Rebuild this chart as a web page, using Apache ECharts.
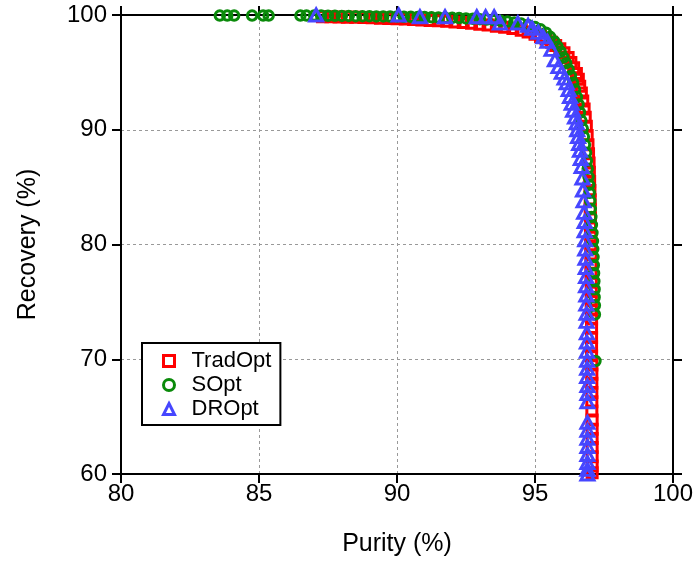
<!DOCTYPE html>
<html>
<head>
<meta charset="utf-8">
<script src="https://cdn.jsdelivr.net/npm/echarts@6/dist/echarts.min.js"></script>
<style>
html,body{margin:0;padding:0;background:#fff;}
#chart{width:695px;height:561px;}
</style>
</head>
<body>
<div id="chart"></div>
<script>
// purity (%) vs recovery (%)
var tradOpt = [
	[87.3,99.85],[87.6,99.85],[87.9,99.82],[88.2,99.8],[88.5,99.8],[88.8,99.78],[89.1,99.75],[89.4,99.72],
	[89.7,99.7],[90.0,99.68],[90.3,99.65],[90.6,99.6],[90.9,99.57],[91.2,99.53],[91.5,99.5],[91.8,99.45],
	[92.1,99.4],[92.4,99.35],[92.7,99.28],[93.0,99.2],[93.3,99.12],[93.6,99.03],[93.9,98.93],[94.2,98.82],
	[94.5,98.68],[94.75,98.52],[95.0,98.33],[95.2,98.13],[95.4,97.9],[95.6,97.62],[95.75,97.35],[95.9,97.05],
	[96.05,96.7],[96.2,96.3],[96.3,95.85],[96.4,95.4],[96.5,94.9],[96.57,94.4],[96.62,93.8],[96.68,93.2],
	[96.73,92.5],[96.78,91.8],[96.82,91.1],[96.86,90.3],[96.89,89.5],[96.92,88.7],[96.94,87.9],[96.96,87.1],
	[96.97,86.3],[96.98,85.5],[96.99,84.7],[97.0,83.9],[97.0,83.1],[97.01,82.3],[97.01,81.5],[97.02,80.7],
	[97.02,79.9],[97.03,79.1],[97.03,78.3],[97.03,77.5],[97.04,76.7],[97.04,75.9],[97.04,75.1],[97.04,74.3],
	[97.05,73.5],[97.05,72.7],[97.05,71.9],[97.05,71.1],[97.05,70.3],[97.06,69.5],[97.06,68.7],[97.06,67.9],
	[97.06,67.1],[97.06,66.3],[97.06,65.5],[97.07,64.7],[97.07,63.9],[97.07,63.1],[97.07,62.3],[97.07,61.5],
	[97.07,60.7],[97.07,60.1]
];
var sOpt = [
	[83.58,99.95],[83.85,99.95],[84.1,99.95],[84.75,99.95],[85.15,99.95],[85.35,99.95],[86.5,99.95],[86.72,99.95],
	[87.0,99.95],[87.25,99.95],[87.5,99.93],[87.75,99.93],[88.0,99.92],[88.25,99.92],[88.5,99.9],[88.75,99.9],
	[89.0,99.9],[89.25,99.88],[89.5,99.88],[89.75,99.87],[90.0,99.86],[90.25,99.85],[90.5,99.84],[90.75,99.83],
	[91.0,99.82],[91.25,99.8],[91.5,99.78],[91.75,99.77],[92.0,99.75],[92.25,99.73],[92.5,99.7],[92.75,99.67],
	[93.0,99.64],[93.25,99.6],[93.5,99.55],[93.75,99.5],[94.0,99.43],[94.25,99.35],[94.5,99.25],[94.75,99.12],
	[95.0,98.95],[95.2,98.75],[95.4,98.45],[95.55,98.1],[95.7,97.7],[95.82,97.25],[95.93,96.8],[96.03,96.3],
	[96.13,95.8],[96.22,95.25],[96.3,94.7],[96.38,94.1],[96.45,93.5],[96.52,92.85],[96.58,92.2],[96.63,91.5],
	[96.68,90.8],[96.73,90.1],[96.77,89.4],[96.81,88.7],[96.85,88.0],[96.88,87.3],[96.91,86.6],[96.94,85.9],
	[96.96,85.2],[96.98,84.5],[97.0,83.8],[97.02,83.1],[97.04,82.4],[97.06,81.7],[97.08,81.0],[97.1,80.3],
	[97.11,79.6],[97.12,78.9],[97.13,78.2],[97.14,77.5],[97.15,76.8],[97.16,76.1],[97.16,75.4],[97.17,74.7],
	[97.17,73.9],[97.19,69.85]
];
var drOpt = [
	[87.07,100],[90.06,100],[90.83,99.85],[91.74,99.85],[92.89,99.85],[93.21,99.85],[93.52,99.85],[93.73,99.3],
	[94.38,99.3],[94.75,99.1],[94.9,98.85],[95.12,98.5],[95.3,98.1],[95.45,97.7],[95.6,97.0],[95.72,96.1],
	[95.85,95.5],[95.97,95.0],[96.07,94.5],[96.15,94.1],[96.22,93.5],[96.27,92.9],[96.33,92.3],[96.38,91.7],
	[96.45,91.1],[96.51,90.6],[96.53,90.0],[96.56,89.4],[96.6,88.8],[96.63,88.2],[96.66,87.5],[96.69,86.8],
	[96.72,85.8],[96.74,84.75],[96.76,83.8],[96.78,82.8],[96.8,82.0],[96.8,81.2],[96.82,80.4],[96.82,79.6],
	[96.83,78.8],[96.84,78.0],[96.85,77.2],[96.85,76.4],[96.86,75.6],[96.86,74.8],[96.87,74.0],[96.87,73.3],
	[96.88,72.3],[96.88,71.5],[96.88,70.7],[96.89,69.9],[96.89,69.2],[96.89,68.5],[96.9,67.7],[96.9,67.0],
	[96.9,66.3],[96.9,64.5],[96.9,63.8],[96.9,63.1],[96.9,62.4],[96.9,61.7],[96.9,61.0],[96.9,60.4],[96.9,60.0]
];
var seriesNames = ['TradOpt','SOpt','DROpt'];
var seriesColors = ['#ff0000','#0a8a0a','#4646ff'];

var font = '"Liberation Sans", Arial, sans-serif';
var myChart = echarts.init(document.getElementById('chart'));

function frameAxis(pos, lo, hi, step) {
	return {
		type: 'value', position: pos, min: lo, max: hi, interval: step,
		axisLine: {show: true, onZero: false, lineStyle: {color: '#000', width: 2}},
		axisTick: {show: true, length: 9, lineStyle: {color: '#000', width: 2}},
		axisLabel: {show: false},
		splitLine: {show: false}
	};
}

var option = {
	backgroundColor: '#fff',
	animation: false,
	grid: {left: 121, right: 22, top: 15, bottom: 87, outerBoundsMode: 'none'},
	legend: {
		orient: 'vertical',
		left: 142, top: 343,
		data: seriesNames,
		backgroundColor: '#fff',
		borderColor: '#000',
		borderWidth: 2,
		borderRadius: 0,
		padding: [7, 9, 5, 20],
		itemGap: 2,
		itemWidth: 11,
		itemHeight: 11,
		itemStyle: {borderWidth: 3},
		textStyle: {fontSize: 22, fontFamily: font, color: '#000', padding: [0, 0, 0, 12], lineHeight: 20}
	},
	xAxis: [
		{
			type: 'value', position: 'bottom', min: 80, max: 100, interval: 5,
			name: 'Purity (%)', nameLocation: 'middle', nameGap: 58,
			nameTextStyle: {fontSize: 25, fontFamily: font, color: '#000'},
			axisLine: {show: true, onZero: false, lineStyle: {color: '#000', width: 2}},
			axisTick: {show: true, length: 9, lineStyle: {color: '#000', width: 2}},
			axisLabel: {fontSize: 24, fontFamily: font, color: '#000', margin: 8},
			splitLine: {show: true, lineStyle: {color: '#999', width: 1, type: [3, 3]}}
		},
		frameAxis('top', 80, 100, 5)
	],
	yAxis: [
		{
			type: 'value', position: 'left', min: 60, max: 100, interval: 10,
			name: 'Recovery (%)', nameLocation: 'middle', nameGap: 80,
			nameTextStyle: {fontSize: 25, fontFamily: font, color: '#000'},
			axisLine: {show: true, onZero: false, lineStyle: {color: '#000', width: 2}},
			axisTick: {show: true, length: 9, lineStyle: {color: '#000', width: 2}},
			axisLabel: {fontSize: 24, fontFamily: font, color: '#000', margin: 14},
			splitLine: {show: true, lineStyle: {color: '#999', width: 1, type: [3, 3]}}
		},
		frameAxis('right', 60, 100, 10)
	],
	series: [
		{
			name: 'TradOpt', type: 'scatter', data: tradOpt,
			symbol: 'rect', symbolSize: 10,
			itemStyle: {color: 'rgba(255,255,255,0)', borderColor: seriesColors[0], borderWidth: 3, opacity: 1}
		},
		{
			name: 'SOpt', type: 'scatter', data: sOpt,
			symbol: 'circle', symbolSize: 9.5,
			itemStyle: {color: 'rgba(255,255,255,0)', borderColor: seriesColors[1], borderWidth: 3, opacity: 1}
		},
		{
			name: 'DROpt', type: 'scatter', data: drOpt,
			symbol: 'triangle', symbolSize: [13, 12],
			itemStyle: {color: 'rgba(255,255,255,0)', borderColor: seriesColors[2], borderWidth: 3, opacity: 1}
		}
	]
};
myChart.setOption(option);
</script>
</body>
</html>
